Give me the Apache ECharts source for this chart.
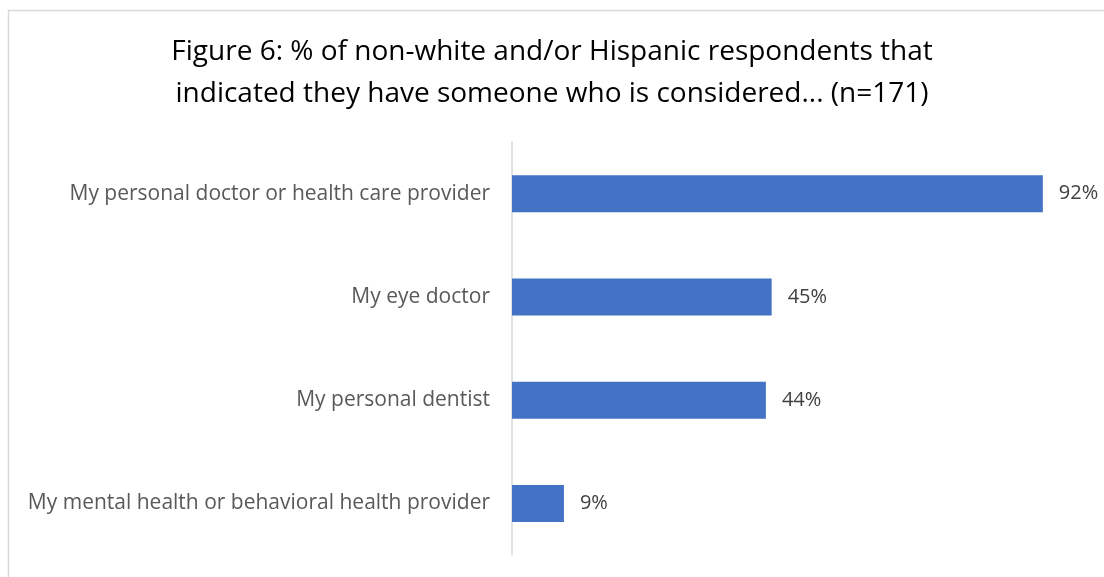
<!DOCTYPE html>
<html><head><meta charset="utf-8">
<script src="https://cdn.jsdelivr.net/npm/echarts@6/dist/echarts.min.js"></script>
<style>html,body{margin:0;padding:0;background:#fff;}#c{width:1104px;height:577px;}</style>
</head><body><div id="c"></div>
<script>
const categories = ["My personal doctor or health care provider","My eye doctor","My personal dentist","My mental health or behavioral health provider"];
const values = [92, 45, 44, 9];
const titleText = "Figure 6: % of non-white and/or Hispanic respondents that\nindicated they have someone who is considered... (n=171)";
const FONT = "'Open Sans', 'Noto Sans', sans-serif";
const chart = echarts.init(document.getElementById('c'));
chart.setOption({
  animation:false,
  backgroundColor:'#fff',
  graphic:[{type:'rect',shape:{x:8.5,y:10.5,width:1110,height:580},style:{fill:'none',stroke:'#d9d9d9',lineWidth:1.5},silent:true}],
  title:{text:titleText,left:'center',top:26,textStyle:{fontFamily:FONT,fontSize:28,fontWeight:'normal',color:'#000',lineHeight:42}},
  grid:{left:512,right:15,top:142,bottom:22,containLabel:false},
  xAxis:{type:'value',min:0,max:100,show:false},
  yAxis:{type:'category',data:categories,inverse:true,
    axisLine:{show:true,lineStyle:{color:'#d9d9d9',width:1.5}},axisTick:{show:false},
    axisLabel:{fontFamily:FONT,fontSize:21,color:'#595959',margin:22}},
  series:[{type:'bar',data:values,barWidth:37,itemStyle:{color:'#4472c4'},
    label:{show:true,position:'right',distance:16,formatter:'{c}%',fontFamily:FONT,fontSize:20,color:'#404040'}}]
});
</script></body></html>
